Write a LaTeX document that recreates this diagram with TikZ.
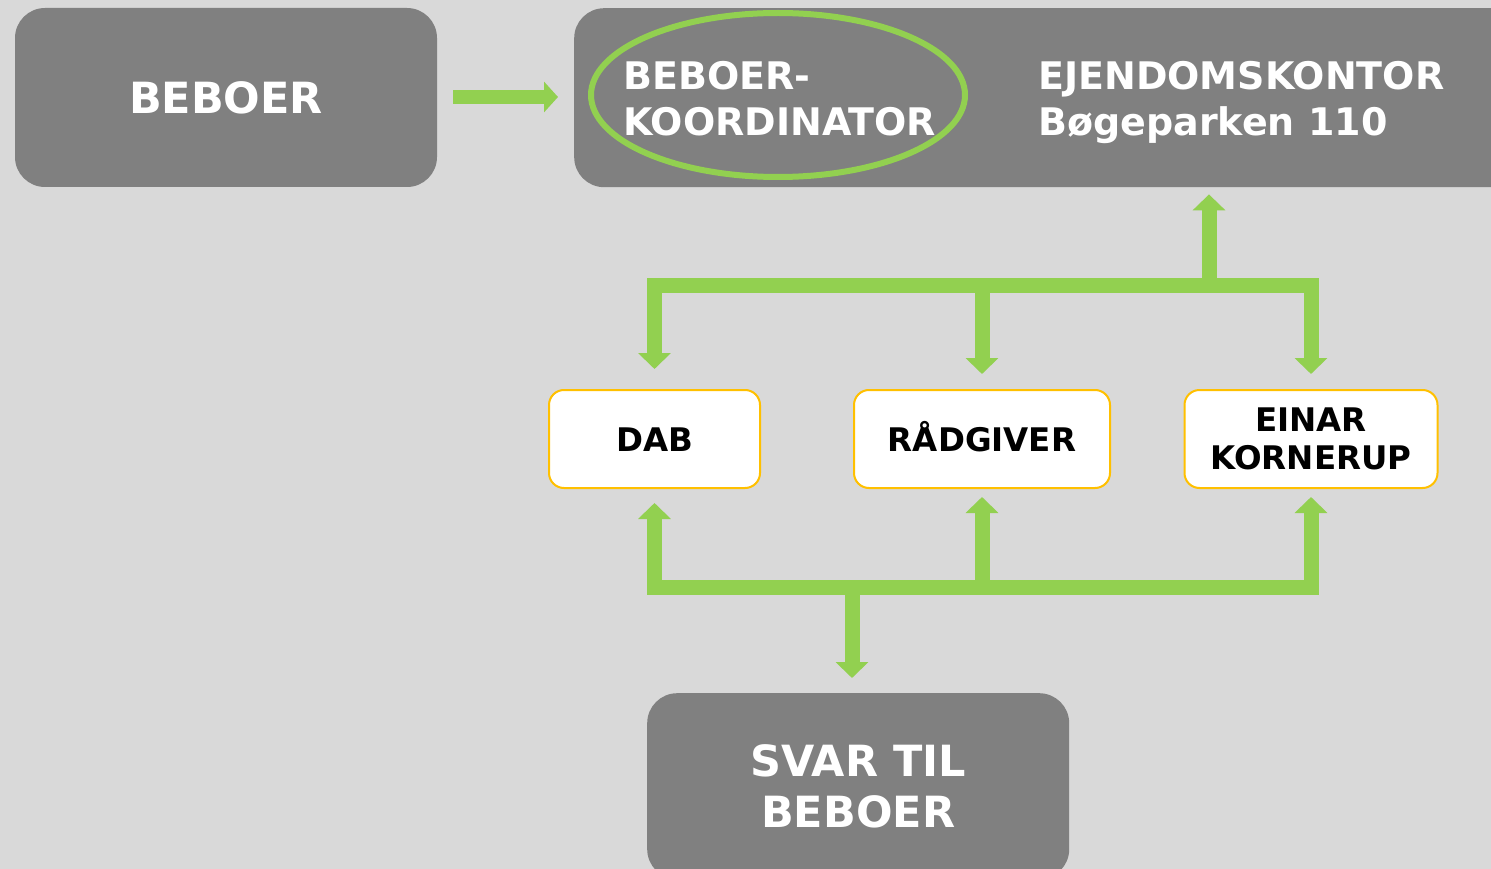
\documentclass[tikz,border=0pt]{standalone}
\usepackage{fontspec}
\setmainfont{DejaVu Sans}
\usetikzlibrary{arrows.meta,shapes.geometric,calc}
\definecolor{bg}{HTML}{D9D9D9}
\definecolor{boxgray}{HTML}{808080}
\definecolor{lgreen}{HTML}{92D050}
\definecolor{ygold}{HTML}{FFC000}
\begin{document}
\begin{tikzpicture}[x=1pt,y=-1pt,
  graybox/.style={fill=boxgray, rounded corners=30pt, text=white, align=center, inner sep=0pt},
  wbox/.style={draw=ygold, line width=2pt, fill=white, rounded corners=15pt, text=black, align=center,
    font=\fontsize{32.5}{38}\selectfont\bfseries, minimum height=98pt, inner sep=0pt},
  oneline/.style={text height=24pt, text depth=0pt},
  wtext/.style={text=white, inner sep=0pt, anchor=base west, font=\fontsize{38}{46}\selectfont\bfseries},
  bus/.style={draw=lgreen, line width=15pt, line join=miter},
  tipA/.style={-{Triangle[width=32pt,length=16pt]}},
  tipB/.style={{Triangle[width=32pt,length=16pt]}-{Triangle[width=32pt,length=16pt]}}]
\useasboundingbox (0,0) rectangle (1491,869);
\clip (0,0) rectangle (1491,869);
\fill[bg] (0,0) rectangle (1491,869);

% gray boxes
\node[graybox, minimum width=422pt, minimum height=179pt, font=\fontsize{43}{50}\selectfont\bfseries] (beboer) at (226,97.5) {BEBOER};
\node[graybox, minimum width=960pt, minimum height=179pt, anchor=north west] (office) at (574,8) {};
\node[graybox, minimum width=422pt, minimum height=186pt, anchor=north west, font=\fontsize{43}{51}\selectfont\bfseries] (svar) at (647,693) {SVAR TIL\\BEBOER};

% texts in office box
\node[ellipse, draw=lgreen, line width=6pt, minimum width=374pt, minimum height=164pt] (ring) at (778,95) {};
\node[wtext] (koord1) at (623,90) {BEBOER-};
\node[wtext] (koord2) at (623,136) {KOORDINATOR};
\node[wtext] (ejd1) at (1038,90) {EJENDOMSKONTOR};
\node[wtext] (ejd2) at (1038,136) {Bøgeparken 110};

% white boxes
\node[wbox, oneline, minimum width=211pt] (dab) at (654.5,439) {DAB};
\node[wbox, oneline, minimum width=256pt] (rad) at (982,439) {RÅDGIVER};
\node[wbox, minimum width=253pt] (einar) at (1311,439) {EINAR\\KORNERUP};

% arrow beboer -> office
\draw[draw=lgreen, line width=14pt, -{Triangle[width=30pt,length=14pt]}, shorten <=16pt, shorten >=16pt] (beboer.east |- 0,97) -- (office.west |- 0,97);

% top bus
\coordinate (topj) at (982,285);
\coordinate (upj) at (1209,285);
\draw[bus, tipB, shorten <=20pt, shorten >=15pt] (dab.north) |- (topj) -| (einar.north);
\draw[bus, tipA, shorten >=15pt] (topj) -- (rad.north);
\draw[bus, tipA, shorten >=7pt] (upj) -- (upj |- office.south);

% bottom bus
\coordinate (botj) at (982,587);
\coordinate (dnj) at (852,587);
\draw[bus, tipB, shorten <=14pt, shorten >=8pt] (dab.south) |- (botj) -| (einar.south);
\draw[bus, tipA, shorten >=8pt] (botj) -- (rad.south);
\draw[bus, tipA, shorten >=15pt] (dnj) -- (dnj |- svar.north);
\end{tikzpicture}
\end{document}
